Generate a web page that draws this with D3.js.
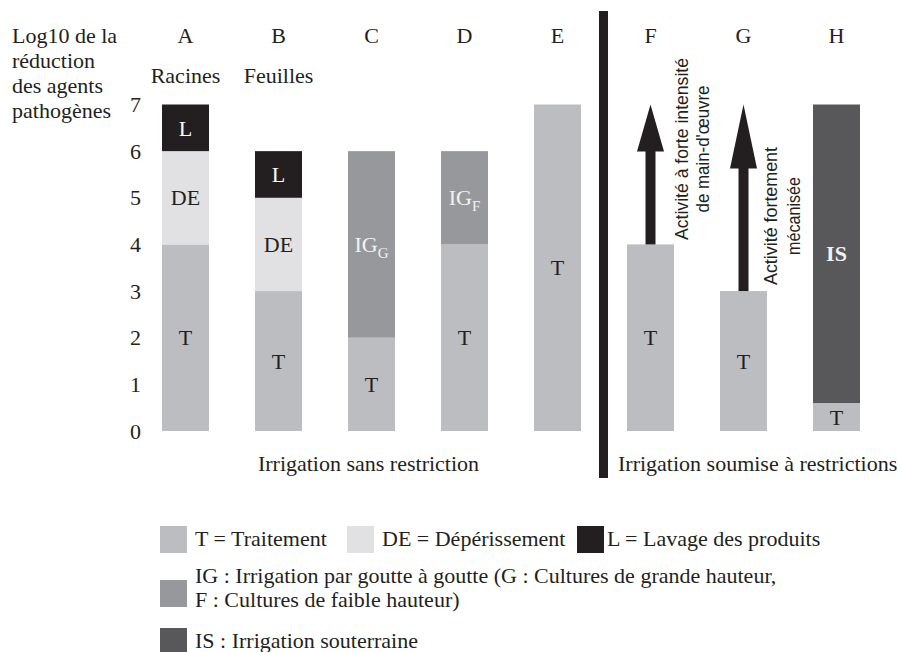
<!DOCTYPE html>
<html>
<head>
<meta charset="utf-8">
<script src="https://cdn.jsdelivr.net/npm/d3@7"></script>
<style>
  body { margin: 0; background: #fff; }
  text { font-family: "Liberation Serif", "Times New Roman", serif; fill: #231f20; }
</style>
</head>
<body>
<svg id="chart"></svg>
<script>
let svgW = 898, svgH = 652;
let fs = "22px";

// bars and their segments (log10 reduction)
let groups = ["A", "B", "C", "D", "E", "F", "G", "H"];
let subtitles = ["Racines", "Feuilles", "", "", "", "", "", ""];
let valT  = [4, 3, 2, 4, 7, 4, 3, 0.6];
let valDE = [2, 2, 0, 0, 0, 0, 0, 0];
let valIG = [0, 0, 4, 2, 0, 0, 0, 0];
let valIS = [0, 0, 0, 0, 0, 0, 0, 6.4];
let valL  = [1, 1, 0, 0, 0, 0, 0, 0];
let igSub = ["", "", "G", "F", "", "", "", ""];

let yTicks = [0, 1, 2, 3, 4, 5, 6, 7];
let yTitle = ["Log10 de la", "réduction", "des agents", "pathogènes"];

// arrows on F and G
let arrowBars = ["F", "G"];
let arrowFrom = [4, 3];
let arrowTo = [7, 7];
let arrowNotes = [["Activité à forte intensité", "de main-d'œuvre"], ["Activité fortement", "mécanisée"]];

let groupLabels = ["Irrigation sans restriction", "Irrigation soumise à restrictions"];

let keys = ["T", "DE", "IG", "IS", "L"];
let colors = {T: "#bcbdc0", DE: "#e1e1e3", IG: "#97989b", IS: "#58585a", L: "#231f20"};
let labelColors = {T: "#231f20", DE: "#231f20", IG: "#f2f2f2", IS: "#f2f2f2", L: "#ffffff"};

let svg = d3.select("#chart")
    .attr("width", svgW)
    .attr("height", svgH)

let table = groups.map(function (g, i) {
    return {group: g, T: valT[i], DE: valDE[i], IG: valIG[i], IS: valIS[i], L: valL[i], sub: igSub[i]};
})

let xScale = d3.scaleBand()
    .domain(groups)
    .range([162, 860])
    .paddingInner(46 / 93)
    .paddingOuter(0)

let yScale = d3.scaleLinear()
    .domain([0, 7])
    .range([431, 104.5])

let bw = xScale.bandwidth();

// y axis: labels only
let yAxis = d3.axisLeft(yScale)
    .tickValues(yTicks)
    .tickSize(0)
    .tickPadding(3)
    .tickFormat(d3.format("d"))

let yG = svg.append("g")
    .attr("transform", "translate(144,0)")
    .call(yAxis)
yG.select(".domain").remove()
yG.selectAll("text")
    .style("font-family", "Liberation Serif, serif")
    .style("font-size", fs)
    .attr("fill", "#231f20")

svg.append("text")
    .attr("x", 12)
    .attr("y", 43)
    .style("font-size", fs)
    .selectAll("tspan")
    .data(yTitle)
    .enter()
    .append("tspan")
    .attr("x", 12)
    .attr("dy", function (d, i) { return i == 0 ? 0 : 25; })
    .text(function (d) { return d; })

// column letters and subtitles
svg.selectAll(".letter")
    .data(groups)
    .enter()
    .append("text")
    .attr("class", "letter")
    .attr("x", function (d) { return xScale(d) + bw / 2; })
    .attr("y", 43)
    .attr("text-anchor", "middle")
    .style("font-size", fs)
    .text(function (d) { return d; })

svg.selectAll(".subtitle")
    .data(groups.filter(function (d, i) { return subtitles[i] != ""; }))
    .enter()
    .append("text")
    .attr("class", "subtitle")
    .attr("x", function (d) { return xScale(d) + bw / 2; })
    .attr("y", 83)
    .attr("text-anchor", "middle")
    .style("font-size", fs)
    .text(function (d) { return subtitles[groups.indexOf(d)]; })

// stacked bars
let stack = d3.stack().keys(keys)(table);

let layer = svg.selectAll(".layer")
    .data(stack)
    .enter()
    .append("g")
    .attr("class", "layer")

layer.selectAll("rect")
    .data(function (s) { return s.filter(function (d) { return d[1] - d[0] > 0; }); })
    .enter()
    .append("rect")
    .attr("x", function (d) { return xScale(d.data.group); })
    .attr("y", function (d) { return yScale(d[1]); })
    .attr("width", bw)
    .attr("height", function (d) { return yScale(d[0]) - yScale(d[1]); })
    .attr("fill", function () { return colors[d3.select(this.parentNode).datum().key]; })

layer.each(function (s) {
    let key = s.key;
    let segs = s.filter(function (d) { return d[1] - d[0] > 0; });
    let lab = d3.select(this).selectAll("text")
        .data(segs)
        .enter()
        .append("text")
        .attr("x", function (d) { return xScale(d.data.group) + bw / 2; })
        .attr("y", function (d) { return yScale((d[0] + d[1]) / 2); })
        .attr("dy", "0.35em")
        .attr("text-anchor", "middle")
        .style("font-size", fs)
        .style("fill", labelColors[key])
        .style("font-weight", key == "IS" ? "bold" : "normal")
    lab.append("tspan").text(key)
    if (key == "IG") {
        lab.append("tspan")
            .attr("dy", 6)
            .style("font-size", "15px")
            .text(function (d) { return d.data.sub; })
    }
})

// arrows
let headLen = [47, 64];
arrowBars.forEach(function (b, i) {
    let cx = xScale(b) + bw / 2;
    let y0 = yScale(arrowFrom[i]), y1 = yScale(arrowTo[i]);
    let yh = y1 + headLen[i];
    svg.append("rect")
        .attr("x", cx - 5)
        .attr("y", yh - 1)
        .attr("width", 10)
        .attr("height", y0 - yh + 1)
        .attr("fill", "#231f20")
    svg.append("path")
        .attr("d", "M" + cx + "," + y1 + "L" + (cx + 13.5) + "," + yh + "L" + (cx - 13.5) + "," + yh + "Z")
        .attr("fill", "#231f20")
})

// rotated notes next to the arrows
let noteOffsets = [[37, 58], [33, 56]];
let noteCenters = [149, 216];
let noteLengths = [[182, 127], [138, 78]];
arrowNotes.forEach(function (lines, i) {
    let cx = xScale(arrowBars[i]) + bw / 2;
    lines.forEach(function (line, j) {
        svg.append("text")
            .attr("transform", "translate(" + (cx + noteOffsets[i][j]) + "," + noteCenters[i] + ") rotate(-90)")
            .attr("text-anchor", "middle")
            .attr("textLength", noteLengths[i][j])
            .attr("lengthAdjust", "spacingAndGlyphs")
            .style("font-family", "Liberation Sans, Arial, sans-serif")
            .style("font-size", "19px")
            .text(line)
    })
})

// divider
svg.append("rect")
    .attr("x", 599)
    .attr("y", 11)
    .attr("width", 9)
    .attr("height", 467)
    .attr("fill", "#231f20")

// group labels
svg.append("text")
    .attr("x", (xScale("A") + xScale("E") + bw) / 2 - 3)
    .attr("y", 471)
    .attr("text-anchor", "middle")
    .style("font-size", fs)
    .text(groupLabels[0])

svg.append("text")
    .attr("x", xScale("F") - 9)
    .attr("y", 471)
    .style("font-size", fs)
    .text(groupLabels[1])

// legend
let legendRows = [
    {key: "T", x: 160, y: 526, lines: ["T = Traitement"]},
    {key: "DE", x: 347, y: 526, lines: ["DE = Dépérissement"]},
    {key: "L", x: 577, y: 526, lines: ["L = Lavage des produits"]},
    {key: "IG", x: 160, y: 580, lines: ["IG : Irrigation par goutte à goutte (G : Cultures de grande hauteur,", "F : Cultures de faible hauteur)"]},
    {key: "IS", x: 160, y: 628, lines: ["IS : Irrigation souterraine"]}
];

let leg = svg.selectAll(".legend")
    .data(legendRows)
    .enter()
    .append("g")
    .attr("class", "legend")

leg.append("rect")
    .attr("x", function (d) { return d.x; })
    .attr("y", function (d) { return d.y; })
    .attr("width", 27)
    .attr("height", 27)
    .attr("fill", function (d) { return colors[d.key]; })

leg.append("text")
    .style("font-size", fs)
    .each(function (d) {
        let t = d3.select(this);
        let single = d.lines.length == 1;
        d.lines.forEach(function (line, j) {
            t.append("tspan")
                .attr("x", d.x + (d.key == "L" ? 30 : 35))
                .attr("y", single ? d.y + 20 : d.y + 3 + j * 24)
                .text(line)
        })
    })
</script>
</body>
</html>
